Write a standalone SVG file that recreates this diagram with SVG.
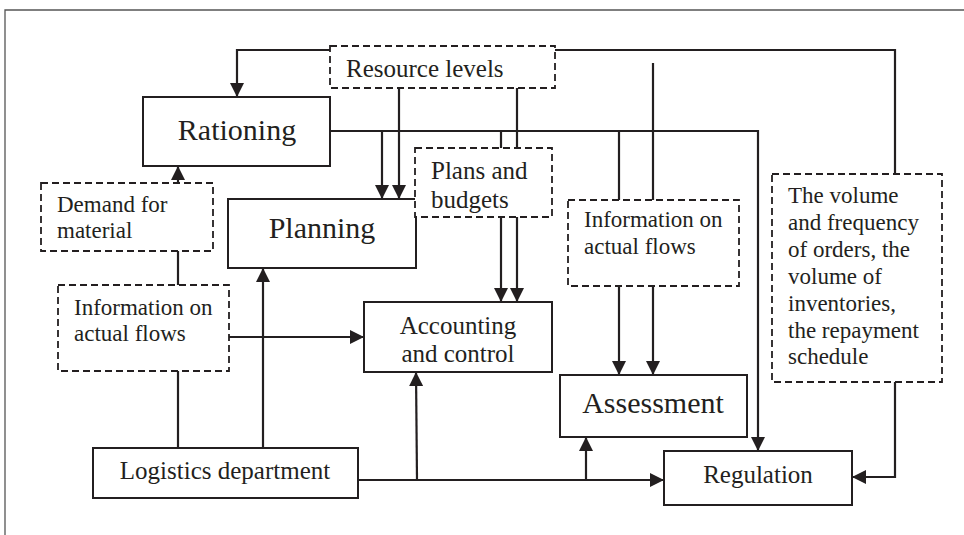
<svg xmlns="http://www.w3.org/2000/svg" width="964" height="535" viewBox="0 0 964 535">
  <style>
    .frame { fill: none; stroke: #555; stroke-width: 1.3; }
    .node rect { fill: #fff; stroke: #231f20; stroke-width: 2; }
    .info rect { fill: #fff; stroke: #231f20; stroke-width: 1.8; stroke-dasharray: 7 4; }
    .edge { fill: none; stroke: #231f20; stroke-width: 2.2; }
    .arrow { marker-end: url(#head); }
    text { font-family: "Liberation Serif", "Times New Roman", serif; fill: #231f20; }
    .big { font-size: 30px; text-anchor: middle; }
    .mid { font-size: 25px; text-anchor: middle; }
    .small { font-size: 23px; }
    .lbl { font-size: 25px; }
  </style>
  <defs>
    <marker id="head" markerUnits="userSpaceOnUse" markerWidth="14" markerHeight="14" refX="14" refY="7" orient="auto">
      <path d="M0,0 L14,7 L0,14 z" fill="#231f20"/>
    </marker>
  </defs>

  <rect width="964" height="535" fill="#fff"/>
  <path class="frame" d="M5,535 V10 H964"/>

  <g id="connectors">
    <polyline class="edge arrow" points="895,174 895,50 237,50 237,97"/>
    <line class="edge arrow" x1="399" y1="88" x2="399" y2="199"/>
    <line class="edge" x1="517" y1="88" x2="517" y2="148"/>
    <polyline class="edge arrow" points="330,131 758,131 758,451"/>
    <line class="edge arrow" x1="382" y1="131" x2="382" y2="199"/>
    <line class="edge" x1="501" y1="131" x2="501" y2="148"/>
    <line class="edge" x1="619" y1="131" x2="619" y2="200"/>
    <line class="edge" x1="653" y1="63" x2="653" y2="200"/>
    <line class="edge arrow" x1="501" y1="217" x2="501" y2="302"/>
    <line class="edge arrow" x1="517" y1="217" x2="517" y2="302"/>
    <line class="edge arrow" x1="619" y1="286" x2="619" y2="375"/>
    <line class="edge arrow" x1="653" y1="286" x2="653" y2="375"/>
    <line class="edge arrow" x1="178" y1="183" x2="178" y2="166"/>
    <line class="edge" x1="178" y1="251" x2="178" y2="285"/>
    <line class="edge arrow" x1="229" y1="337" x2="364" y2="337"/>
    <line class="edge" x1="178" y1="371" x2="178" y2="448"/>
    <line class="edge arrow" x1="263" y1="448" x2="263" y2="268"/>
    <line class="edge arrow" x1="358" y1="480" x2="664" y2="480"/>
    <line class="edge arrow" x1="417" y1="480" x2="416" y2="372"/>
    <line class="edge arrow" x1="586" y1="480" x2="586" y2="437"/>
    <polyline class="edge arrow" points="895,382 895,477 852,477"/>
  </g>

  <g id="rationing" class="node">
    <rect x="143" y="97" width="187" height="69"/>
    <text class="big" x="237" y="140">Rationing</text>
  </g>

  <g id="resource-levels" class="info">
    <rect x="330" y="46" width="225" height="42"/>
    <text class="lbl" x="346" y="77">Resource levels</text>
  </g>

  <g id="planning" class="node">
    <rect x="228" y="199" width="188" height="69"/>
    <text class="big" x="322" y="238">Planning</text>
  </g>

  <g id="plans-budgets" class="info">
    <rect x="415" y="148" width="137" height="69"/>
    <text class="lbl" x="431" y="179">Plans and</text>
    <text class="lbl" x="431" y="208">budgets</text>
  </g>

  <g id="demand-material" class="info">
    <rect x="41" y="183" width="172" height="68"/>
    <text class="small" x="57" y="212">Demand for</text>
    <text class="small" x="57" y="238">material</text>
  </g>

  <g id="info-flows-left" class="info">
    <rect x="58" y="285" width="171" height="86"/>
    <text class="small" x="74" y="315">Information on</text>
    <text class="small" x="74" y="341">actual flows</text>
  </g>

  <g id="info-flows-mid" class="info">
    <rect x="568" y="200" width="171" height="86"/>
    <text class="small" x="584" y="227">Information on</text>
    <text class="small" x="584" y="254">actual flows</text>
  </g>

  <g id="accounting" class="node">
    <rect x="364" y="302" width="188" height="70"/>
    <text class="mid" x="458" y="334">Accounting</text>
    <text class="mid" x="458" y="362">and control</text>
  </g>

  <g id="assessment" class="node">
    <rect x="560" y="375" width="187" height="62"/>
    <text class="big" x="653" y="413">Assessment</text>
  </g>

  <g id="logistics" class="node">
    <rect x="93" y="448" width="265" height="50"/>
    <text class="mid" x="225" y="479">Logistics department</text>
  </g>

  <g id="regulation" class="node">
    <rect x="664" y="451" width="188" height="54"/>
    <text class="mid" x="758" y="483">Regulation</text>
  </g>

  <g id="orders-inventories" class="info">
    <rect x="772" y="174" width="170" height="208"/>
    <text class="small" x="788" y="203">The volume</text>
    <text class="small" x="788" y="230">and frequency</text>
    <text class="small" x="788" y="257">of orders, the</text>
    <text class="small" x="788" y="284">volume of</text>
    <text class="small" x="788" y="311">inventories,</text>
    <text class="small" x="788" y="338">the repayment</text>
    <text class="small" x="788" y="364">schedule</text>
  </g>
</svg>
